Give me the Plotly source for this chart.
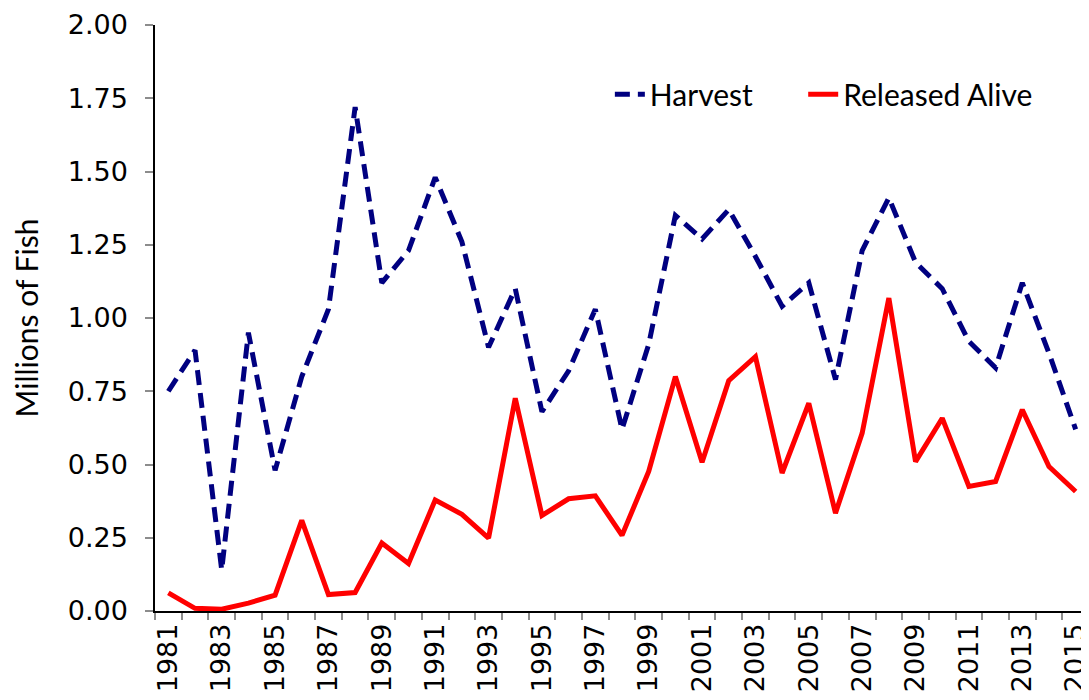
import plotly.graph_objects as go

years = list(range(1981, 2016))
harvest = [0.75, 0.89, 0.14, 0.95, 0.48, 0.80, 1.03, 1.72, 1.12, 1.23,
           1.48, 1.26, 0.90, 1.10, 0.68, 0.82, 1.03, 0.62, 0.91, 1.35,
           1.27, 1.37, 1.21, 1.04, 1.12, 0.79, 1.23, 1.41, 1.19, 1.10,
           0.92, 0.83, 1.12, 0.88, 0.62]
released = [0.062, 0.009, 0.006, 0.027, 0.054, 0.309, 0.056, 0.063, 0.232, 0.162,
            0.379, 0.330, 0.249, 0.726, 0.326, 0.383, 0.393, 0.258, 0.476, 0.800,
            0.508, 0.786, 0.868, 0.471, 0.709, 0.334, 0.607, 1.068, 0.510, 0.658,
            0.425, 0.442, 0.687, 0.493, 0.408]
x_tick_labels = [str(y) for y in years if y % 2 == 1]
y_ticks = [0, 0.25, 0.5, 0.75, 1.0, 1.25, 1.5, 1.75, 2.0]

fig = go.Figure()
fig.add_trace(go.Scatter(x=years, y=harvest, mode="lines", name="Harvest",
                         legend="legend",
                         line=dict(color="#000080", width=5, dash="15px,8px")))
fig.add_trace(go.Scatter(x=years, y=released, mode="lines", name="Released Alive",
                         legend="legend2",
                         line=dict(color="#FF0000", width=5)))

tick_font = dict(family="DejaVu Sans", size=27, color="black")
leg_font = dict(family="Lato", size=30, color="black")
fig.update_layout(
    width=1081, height=692,
    margin=dict(l=147, r=0, t=17, b=89),
    paper_bgcolor="white", plot_bgcolor="white",
    showlegend=True,
    legend=dict(orientation="h", x=0.487, y=0.882, xanchor="left", yanchor="middle",
                font=leg_font, bgcolor="rgba(0,0,0,0)"),
    legend2=dict(orientation="h", x=0.694, y=0.882, xanchor="left", yanchor="middle",
                 font=leg_font, bgcolor="rgba(0,0,0,0)"),
    xaxis=dict(range=[1980.5, 2015.5], tickmode="array",
               tickvals=[y for y in years if y % 2 == 1], ticktext=x_tick_labels,
               tickangle=-90, ticks="", tickfont=tick_font, ticklabeloverflow="allow",
               showline=True, linecolor="black", linewidth=1.5, showgrid=False,
               zeroline=False,
               minor=dict(tickmode="linear", tick0=0.5, dtick=1, ticks="outside",
                          ticklen=7, tickcolor="#8c8c8c", tickwidth=1.5, showgrid=False)),
    yaxis=dict(range=[0, 2], tickmode="array", tickvals=y_ticks, tickformat=".2f",
               ticks="outside", ticklen=8, tickcolor="#8c8c8c", tickwidth=1.5,
               ticklabelstandoff=12,
               tickfont=tick_font, showline=True, linecolor="black", linewidth=1.5,
               showgrid=False, zeroline=False,
               title=dict(text="Millions of Fish", font=dict(family="Lato", size=30, color="black"),
                          standoff=22)),
)
fig.write_html("out.html")
